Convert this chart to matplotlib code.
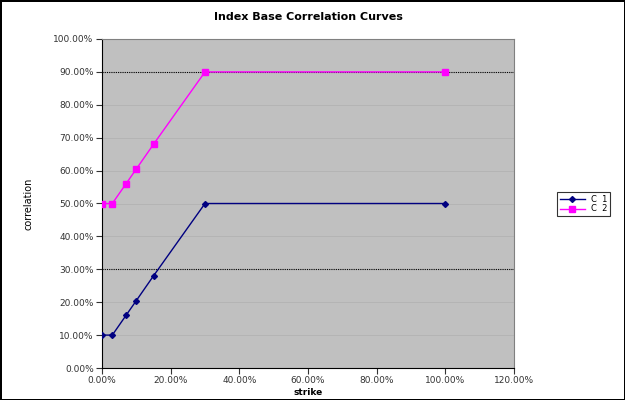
import matplotlib.pyplot as plt
from matplotlib.ticker import FuncFormatter, MultipleLocator

strike = [0.0, 0.03, 0.07, 0.10, 0.15, 0.30, 1.00]
c1 = [0.10, 0.10, 0.16, 0.205, 0.28, 0.50, 0.50]
c2 = [0.50, 0.50, 0.56, 0.605, 0.68, 0.90, 0.90]
labels = ["C  1", "C  2"]

fig = plt.figure(figsize=(6.25, 4.0), dpi=100)
fig.patch.set_edgecolor("black")
fig.patch.set_linewidth(2)
ax = fig.add_axes([102 / 625, 1 - 368 / 400, 412 / 625, 329 / 400])
ax.set_facecolor("#c0c0c0")

# faint grid every 10%, dotted black at 30% and 90%
for v in range(1, 10):
    ax.axhline(v / 10, color="#b0b0b0", lw=0.5, zorder=1)
for v in [0.3, 0.9]:
    ax.axhline(v, color="black", lw=0.8, ls=(0, (1, 1)), zorder=1)

ax.plot(strike, c1, color="#000080", marker="D", ms=3, lw=1, label=labels[0], zorder=3)
ax.plot(strike, c2, color="#ff00ff", marker="s", ms=4, lw=1, label=labels[1], zorder=3)

ax.set_xlim(0, 1.2)
ax.set_ylim(0, 1.0)
ax.xaxis.set_major_locator(MultipleLocator(0.2))
ax.yaxis.set_major_locator(MultipleLocator(0.1))
pct = FuncFormatter(lambda v, p: "{:.2f}%".format(v * 100))
ax.xaxis.set_major_formatter(pct)
ax.yaxis.set_major_formatter(pct)
ax.tick_params(labelsize=6.5, length=4, direction="out", pad=2, colors="#333333")
for s in ax.spines.values():
    s.set_color("#808080")
ax.spines["left"].set_color("black")
ax.spines["bottom"].set_color("black")

ax.set_xlabel("strike", fontsize=6.5, fontweight="bold", labelpad=2)
ax.set_ylabel("correlation", fontsize=7, labelpad=14)
ax.set_title("Index Base Correlation Curves", fontsize=8, fontweight="bold", pad=14)

leg = fig.legend(loc="center left", bbox_to_anchor=(553 / 625, 1 - 204 / 400),
                 fontsize=6, frameon=True, fancybox=False, edgecolor="black",
                 handlelength=3, borderpad=0.3, labelspacing=0.1)
leg.get_frame().set_linewidth(0.8)

plt.savefig("out.png", dpi=100, edgecolor=fig.get_edgecolor())
plt.close()
